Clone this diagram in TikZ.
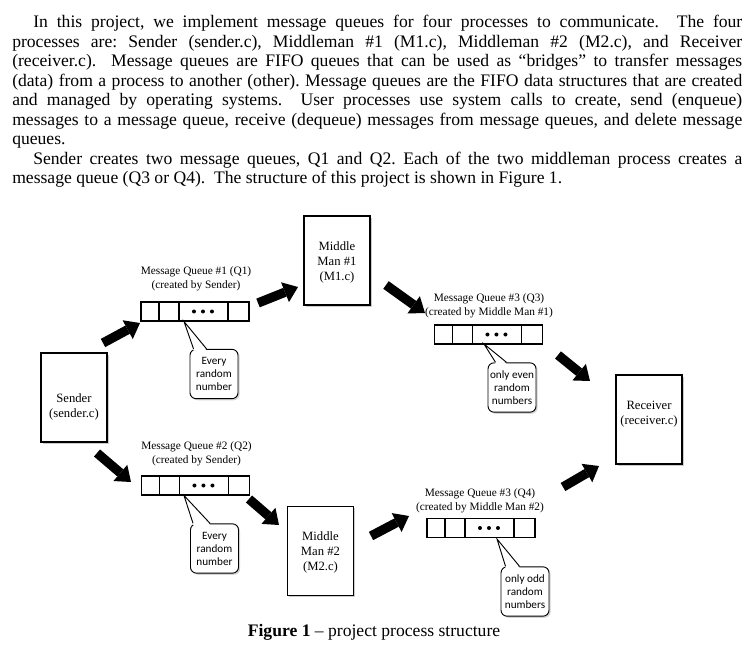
\documentclass[tikz,border=0pt]{standalone}
\usepackage{fontspec}
\setmainfont{Liberation Serif}
\newfontfamily\calibri{Carlito}
\usepackage{tikz}
\usetikzlibrary{calc,arrows.meta,shadows}
\frenchspacing

\begin{document}
\begin{tikzpicture}[x=0.75pt, y=-0.75pt,
  procbox/.style={draw, line width=0.8pt, fill=white, minimum width=49.5pt, minimum height=66.75pt,
    drop shadow={shadow xshift=1.3pt, shadow yshift=-1.3pt, opacity=0.4}},
  proctext/.style={align=center, font=\fontsize{9.5}{11.25}\selectfont},
  queue/.style={draw, line width=0.8pt, minimum width=81pt, minimum height=14.25pt, inner sep=0pt},
  qlabel/.style={align=center, font=\fontsize{8.5}{10.5}\selectfont},
  note/.style={draw, line width=0.7pt, fill=white, rounded corners=4.5pt, minimum width=36pt,
    minimum height=37pt, inner sep=0pt, align=center, font=\calibri\fontsize{8.4}{9.75}\selectfont,
    drop shadow={shadow xshift=1.2pt, shadow yshift=-1.2pt, opacity=0.35}},
  blockarrow/.style={line width=7pt, -{Triangle[length=10.5pt,width=16pt,line width=0pt]}}]
\useasboundingbox (0,0) rectangle (755,655);

% text above the figure
\node[anchor=north west, inner sep=0pt, text width=547.5pt, align=justify,
  font=\fontsize{13.2}{14.625}\selectfont] (intro) at (12,15) {%
\hspace*{15.75pt}In this project, we implement message queues for four processes to communicate.\ \ The four\linebreak
processes are: Sender (sender.c), Middleman \#1 (M1.c), Middleman \#2 (M2.c), and Receiver\linebreak
(receiver.c).\ \ Message queues are FIFO queues that can be used as “bridges” to transfer messages\linebreak
(data) from a process to another (other). Message queues are the FIFO data structures that are created\linebreak
and managed by operating systems.\ \ User processes use system calls to create, send (enqueue)\linebreak
messages to a message queue, receive (dequeue) messages from message queues, and delete message\linebreak
queues.\par
\hspace*{15.75pt}Sender creates two message queues, Q1 and Q2. Each of the two middleman process creates a\linebreak
message queue (Q3 or Q4).\ \ The structure of this project is shown in Figure 1.};

% processes
\node[procbox] (sender) at (74,397.5) {};
\node[proctext] (sendertxt) at (74,407) {Sender\\(sender.c)};
\node[procbox] (mm1) at (337,260.5) {};
\node[proctext] (mm1txt) at (337,262) {Middle\\Man \#1\\(M1.c)};
\node[procbox] (mm2) at (320.5,551) {};
\node[proctext] (mm2txt) at (320.5,552) {Middle\\Man \#2\\(M2.c)};
\node[procbox] (receiver) at (649,419.5) {};
\node[proctext] (receivertxt) at (649,414) {Receiver\\(receiver.c)};

% queues
\node[queue] (q1) at (195,311.5) {};
\node[queue] (q2) at (195.5,485.5) {};
\node[queue] (q3) at (488.5,334.5) {};
\node[queue] (q4) at (481,528) {};
\node[qlabel] (q1lbl) at (196,279) {Message Queue \#1 (Q1)\\(created by Sender)};
\node[qlabel] (q2lbl) at (196.5,454) {Message Queue \#2 (Q2)\\(created by Sender)};
\node[qlabel] (q3lbl) at (489,306) {Message Queue \#3 (Q3)\\(created by Middle Man \#1)};
\node[qlabel] (q4lbl) at (480,500.5) {Message Queue \#3 (Q4)\\(created by Middle Man \#2)};

\foreach \q in {q1,q2,q3,q4} {
  \foreach \d in {18.5,38.5,87.5}
    \draw[line width=0.8pt] ($(\q.north west)+(\d,0)$) -- ($(\q.south west)+(\d,0)$);
  \foreach \d in {53.5,62.5,71.5}
    \fill ($(\q.west)+(\d,0)$) circle (1.5pt);
}

% callouts
\node[note] (note1) at (214,374) {Every\\random\\number};
\node[note] (note2) at (214.5,548.5) {Every\\random\\number};
\node[note] (note3) at (512,387.5) {only even\\random\\numbers};
\node[note] (note4) at (525,591.5) {only odd\\random\\numbers};

\foreach \n/\tx/\ty/\ba/\bb in {note1/184/321.5/4/17, note2/184/495.5/3/20,
    note3/484/344/8/19, note4/497/539/5/19} {
  \coordinate (\n tip) at (\tx,\ty);
  \fill[white] ($(\n.north west)+(\ba,1.5)$) -- (\n tip) -- ($(\n.north west)+(\bb,1.5)$) -- cycle;
  \draw[line width=0.7pt] ($(\n.north west)+(\ba,0)$) -- (\n tip) -- ($(\n.north west)+(\bb,0)$);
}

% block arrows
\foreach \n/\xa/\ya/\xb/\yb in {a1/103/343/140/323, a2/258/303/298/287, a3/386/285/425/313,
    a4/558/355/590/381, a5/97/453/131/482, a6/249/499/279/525,
    a7/371/536/409/516, a8/563/487/599/466} {
  \coordinate (\n s) at (\xa,\ya);
  \coordinate (\n e) at (\xb,\yb);
  \draw[blockarrow] (\n s) -- (\n e);
}

\node[font=\fontsize{13.2}{15}\selectfont] (caption) at (374,632)
  {\textbf{Figure 1} – project process structure};
\end{tikzpicture}
\end{document}
